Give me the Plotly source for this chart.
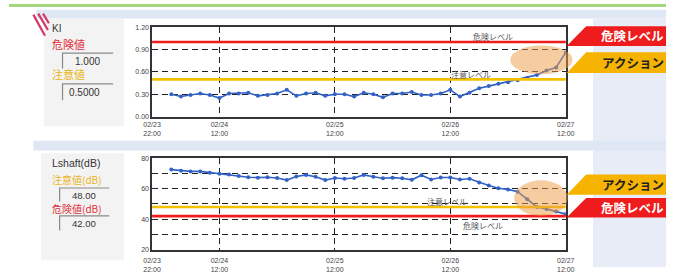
import pandas as pd
import plotly.graph_objects as go

W, H = 675, 273

# ---------------- data ----------------
times = pd.date_range("2024-02-24 02:00", "2024-02-27 12:00", freq="2h")
ki_values = [0.30, 0.27, 0.29, 0.31, 0.29, 0.25, 0.31, 0.31, 0.32, 0.28,
             0.29, 0.31, 0.36, 0.28, 0.31, 0.32, 0.28, 0.30, 0.30, 0.27,
             0.32, 0.30, 0.26, 0.31, 0.31, 0.33, 0.29, 0.29, 0.31, 0.36,
             0.27, 0.32, 0.38, 0.41, 0.44, 0.46, 0.49, 0.52, 0.56, 0.62,
             0.66, 0.86]
lshaft_values = [72.5, 71.8, 71.3, 71.3, 70.5, 69.8, 69.2, 68.3, 67.5, 67.2,
                 67.5, 67.0, 65.6, 68.0, 69.0, 67.8, 65.6, 67.0, 66.5, 67.0,
                 69.0, 67.8, 66.8, 67.2, 66.8, 65.8, 68.8, 66.0, 67.3, 67.3,
                 66.0, 66.5, 64.0, 62.0, 60.3, 59.5, 58.0, 53.0, 48.0, 46.6,
                 45.0, 43.3]
ki_danger, ki_caution = 1.0, 0.5
ls_caution, ls_danger = 48.0, 42.0
x_ticks = ["2024-02-23 22:00", "2024-02-24 12:00", "2024-02-25 12:00",
           "2024-02-26 12:00", "2024-02-27 12:00"]
x_ticklabels = ["02/23<br>22:00", "02/24<br>12:00", "02/25<br>12:00",
                "02/26<br>12:00", "02/27<br>12:00"]
ki_yticks = [0.0, 0.3, 0.6, 0.9, 1.2]
ki_yticklabels = ["0.00", "0.30", "0.60", "0.90", "1.20"]
ls_yticks = [20, 40, 60, 80]

# ---------------- helpers ----------------
def px(x):
    return x / W

def py(y):
    return 1 - y / H

JP = "Noto Sans CJK JP"
NUM = "Liberation Sans, Arial"
BLUE = "#3262c6"
RED = "#f01c1c"
YEL = "#f5c000"

fig = go.Figure()

fig.add_trace(go.Scatter(x=times, y=ki_values, mode="lines+markers",
                         line=dict(color=BLUE, width=1.6),
                         marker=dict(size=4, color=BLUE),
                         xaxis="x", yaxis="y", showlegend=False))
fig.add_trace(go.Scatter(x=times, y=lshaft_values, mode="lines+markers",
                         line=dict(color=BLUE, width=1.6),
                         marker=dict(size=4, color=BLUE),
                         xaxis="x2", yaxis="y2", showlegend=False))

xdom = [px(147), px(572)]
xr = [x_ticks[0], x_ticks[-1]]
axis_common = dict(showline=True, mirror=True, linecolor="#333", linewidth=1.5,
                   ticks="", showgrid=True, gridcolor="#222", gridwidth=1.3,
                   griddash="6px,4px", zeroline=False,
                   tickfont=dict(family=NUM, size=7, color="#444"))

fig.update_layout(
    width=W, height=H, autosize=False,
    margin=dict(l=0, r=0, t=0, b=0),
    paper_bgcolor="white", plot_bgcolor="white",
    xaxis=dict(domain=xdom, range=xr, tickvals=x_ticks, ticktext=x_ticklabels,
               anchor="y", **axis_common),
    yaxis=dict(domain=[py(117), py(24)], range=[0, 1.2], tickvals=ki_yticks,
               ticktext=ki_yticklabels, anchor="x", **axis_common),
    xaxis2=dict(domain=xdom, range=xr, tickvals=x_ticks, ticktext=x_ticklabels,
                anchor="y2", ticklabelstandoff=3, **axis_common),
    yaxis2=dict(domain=[py(255), py(160)], range=[20, 80], tickvals=ls_yticks,
                anchor="x2",
                minor=dict(dtick=10, showgrid=True, gridcolor="#222",
                           gridwidth=1.3, griddash="6px,4px"),
                **axis_common),
)

shapes = []
# background decorations
shapes.append(dict(type="rect", xref="paper", yref="paper", x0=0, x1=1,
                   y0=py(3), y1=1, fillcolor="#a3d67e", line_width=0, layer="below"))
shapes.append(dict(type="rect", xref="paper", yref="paper", x0=px(28), x1=1,
                   y0=py(15), y1=py(6), fillcolor="#dfe7f4", line_width=0, layer="below"))
shapes.append(dict(type="rect", xref="paper", yref="paper", x0=px(600), x1=1,
                   y0=0, y1=py(15), fillcolor="#e7ecf6", line_width=0, layer="below"))
shapes.append(dict(type="rect", xref="paper", yref="paper", x0=px(25), x1=1,
                   y0=py(152), y1=py(142), fillcolor="#dfe7f4", line_width=0, layer="below"))
shapes.append(dict(type="rect", xref="paper", yref="paper", x0=px(36), x1=px(118),
                   y0=py(127), y1=py(15), fillcolor="#f3f3f3", line_width=0, layer="below"))
shapes.append(dict(type="rect", xref="paper", yref="paper", x0=px(33), x1=px(118),
                   y0=py(266), y1=py(155), fillcolor="#f3f3f3", line_width=0, layer="below"))
# corner stripes
for (a, b) in [((25, 11), (37, 33)), ((30, 10), (40, 27)), ((35, 10), (41, 20))]:
    shapes.append(dict(type="line", xref="paper", yref="paper",
                       x0=px(a[0]), y0=py(a[1]), x1=px(b[0]), y1=py(b[1]),
                       line=dict(color="#d2386a", width=2.2)))
# input boxes
for (x0, x1, y0, y1) in [(55, 107, 51, 67), (55, 107, 83, 100),
                         (52, 103, 191, 205), (52, 103, 220, 235)]:
    shapes.append(dict(type="path", xref="paper", yref="paper",
                       path=f"M {px(x0)} {py(y1)} L {px(x0)} {py(y0)} L {px(x1)} {py(y0)}",
                       line=dict(color="#8a8a8a", width=1.2)))

# threshold lines
shapes.append(dict(type="line", xref="x domain", yref="y", x0=0, x1=1,
                   y0=ki_danger, y1=ki_danger, line=dict(color=RED, width=2.6)))
shapes.append(dict(type="line", xref="x domain", yref="y", x0=0, x1=1,
                   y0=ki_caution, y1=ki_caution, line=dict(color=YEL, width=2.6)))
shapes.append(dict(type="line", xref="x2 domain", yref="y2", x0=0, x1=1,
                   y0=ls_caution, y1=ls_caution, line=dict(color=YEL, width=2.6)))
shapes.append(dict(type="line", xref="x2 domain", yref="y2", x0=0, x1=1,
                   y0=ls_danger, y1=ls_danger, line=dict(color=RED, width=2.6)))

# highlight ellipses
shapes.append(dict(type="circle", xref="paper", yref="paper",
                   x0=px(515), x1=px(579), y0=py(73), y1=py(43),
                   fillcolor="#eb9b41", opacity=0.5, line_width=0, layer="above"))
shapes.append(dict(type="circle", xref="paper", yref="paper",
                   x0=px(519), x1=px(574), y0=py(220), y1=py(183),
                   fillcolor="#eb9b41", opacity=0.5, line_width=0, layer="above"))

# banners
def banner(ytop, ybot, color):
    path = (f"M {px(573)} {py(ybot)} L {px(593)} {py(ytop)} "
            f"L {px(675)} {py(ytop)} L {px(675)} {py(ybot)} Z")
    return dict(type="path", xref="paper", yref="paper", path=path,
                fillcolor=color, line_width=0, layer="above")

shapes.append(banner(23, 43.5, "#ee1c1c"))
shapes.append(banner(50, 71.5, "#f6b400"))
shapes.append(banner(177, 198, "#f6b400"))
shapes.append(banner(201.5, 221.5, "#ee1c1c"))
fig.update_layout(shapes=shapes)

ann = []
def text(x, y, s, size, color, anchor="left", family=JP, bold=False):
    if bold:
        s = f"<b>{s}</b>"
    ann.append(dict(x=px(x), y=py(y), xref="paper", yref="paper", text=s,
                    showarrow=False, xanchor=anchor, yanchor="middle",
                    font=dict(family=family, size=size, color=color)))

text(641, 33, "危険レベル", 12.5, "white", "center", bold=True)
text(641, 61, "アクション", 12.5, "#222", "center", bold=True)
text(641, 187, "アクション", 12.5, "#222", "center", bold=True)
text(641, 211.5, "危険レベル", 12.5, "white", "center", bold=True)

text(497, 34, "危険レベル", 8, "#555", "center")
text(475, 73, "注意レベル", 8, "#555", "center")
text(450, 205, "注意レベル", 8, "#555", "center")
text(487, 230, "危険レベル", 8, "#555", "center")

text(42, 25, "KI", 10, "#333", family=NUM)
text(42, 42, "危険値", 11, "#e0303a")
text(96, 60, "1.000", 10, "#333", "right", family=NUM)
text(42, 73, "注意値", 11, "#e9b521")
text(96, 92, "0.5000", 10, "#333", "right", family=NUM)

text(42, 165, "Lshaft(dB)", 10.5, "#333", family=NUM)
text(42, 182, "注意値(dB)", 10, "#e9b521")
text(91, 198.5, "48.00", 9.5, "#333", "right", family=NUM)
text(42, 212.5, "危険値(dB)", 10, "#e0303a")
text(91, 228, "42.00", 9.5, "#333", "right", family=NUM)

fig.update_layout(annotations=ann)

fig.write_html("out.html", config={"displayModeBar": False},
               post_script="document.body.style.margin='0';")
